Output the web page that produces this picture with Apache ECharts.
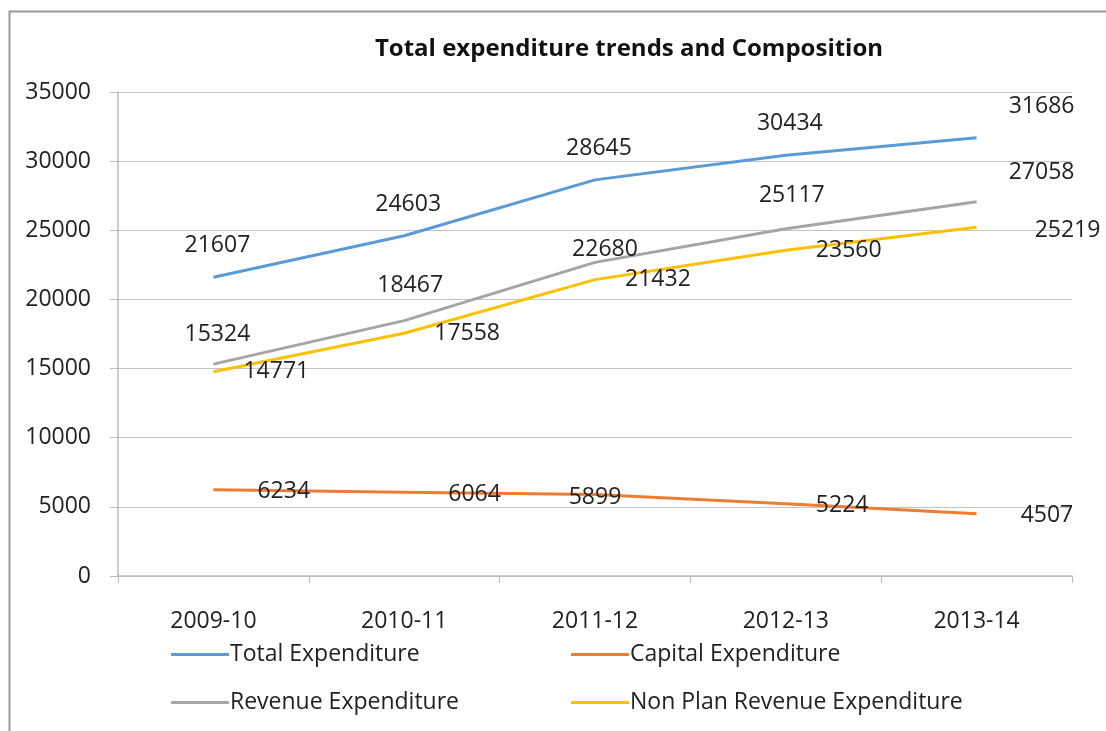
<!DOCTYPE html>
<html><head><meta charset="utf-8">
<script src="https://cdn.jsdelivr.net/npm/echarts@6/dist/echarts.min.js"></script>
<style>html,body{margin:0;padding:0;background:#fff}#c{width:1106px;height:731px}</style>
</head><body><div id="c"></div>
<script>
const categories = ['2009-10','2010-11','2011-12','2012-13','2013-14'];
const totalExp = [21607, 24603, 28645, 30434, 31686];
const capitalExp = [6234, 6064, 5899, 5224, 4507];
const revenueExp = [15324, 18467, 22680, 25117, 27058];
const nonPlanRevExp = [14771, 17558, 21432, 23560, 25219];
const seriesNames = ['Total Expenditure','Capital Expenditure','Revenue Expenditure','Non Plan Revenue Expenditure'];

const FONT = 'Open Sans';
const FS = 23;
const chart = echarts.init(document.getElementById('c'));

function withLabels(values, overrides) {
  return values.map((v, i) => overrides[i] ? { value: v, label: overrides[i] } : v);
}
const lbl = { fontFamily: FONT, fontSize: FS, color: '#222' };
const lineBase = { type: 'line', showSymbol: true, symbol: 'circle', symbolSize: 0.1, lineStyle: { width: 3 } };

chart.setOption({
  backgroundColor: '#fff',
  animation: false,
  title: {
    text: 'Total expenditure trends and Composition',
    left: 624, textAlign: 'center', top: 32,
    textStyle: { fontFamily: FONT, fontSize: 24, fontWeight: 'bold', color: '#111' }
  },
  graphic: [{ type: 'rect', shape: { x: 9.5, y: 11.5, width: 1120, height: 740 }, style: { fill: 'none', stroke: '#999', lineWidth: 2 } }],
  grid: { left: 118, right: 34, top: 92, bottom: 155 },
  xAxis: {
    type: 'category', data: categories, boundaryGap: true,
    axisLine: { lineStyle: { color: '#bbb', width: 1.5 } },
    axisTick: { show: true, length: 7, lineStyle: { color: '#bbb' } },
    axisLabel: { fontFamily: FONT, fontSize: FS, color: '#222', margin: 34 }
  },
  yAxis: {
    type: 'value', min: 0, max: 35000, interval: 5000,
    axisLine: { show: true, lineStyle: { color: '#bbb', width: 1.5 } },
    axisTick: { show: true, length: 8, lineStyle: { color: '#bbb' } },
    splitLine: { lineStyle: { color: '#c4c4c4', width: 1.2 } },
    axisLabel: { fontFamily: FONT, fontSize: FS, color: '#222', margin: 27, formatter: v => String(v) }
  },
  legend: [
    { data: [seriesNames[0], seriesNames[2]], orient: 'vertical', left: 166, top: 638, itemGap: 25, itemWidth: 58, itemHeight: 3, icon: 'rect',
      textStyle: { fontFamily: FONT, fontSize: FS, color: '#222', padding: [0,0,0,-4] } },
    { data: [seriesNames[1], seriesNames[3]], orient: 'vertical', left: 566, top: 638, itemGap: 25, itemWidth: 58, itemHeight: 3, icon: 'rect',
      textStyle: { fontFamily: FONT, fontSize: FS, color: '#222', padding: [0,0,0,-4] } }
  ],
  series: [
    Object.assign({}, lineBase, { name: seriesNames[0], color: '#5b9bd5',
      label: Object.assign({ show: true, position: 'top', distance: 20, offset: [4, 0] }, lbl),
      data: withLabels(totalExp, { 4: { offset: [65, 0] } }) }),
    Object.assign({}, lineBase, { name: seriesNames[1], color: '#ed7d31',
      label: Object.assign({ show: true, position: 'right', distance: 44, offset: [0, 2] }, lbl),
      data: withLabels(capitalExp, { 2: { position: 'inside', offset: [0, 3] }, 3: { offset: [-14, 2] } }) }),
    Object.assign({}, lineBase, { name: seriesNames[2], color: '#a5a5a5',
      label: Object.assign({ show: true, position: 'top', distance: 18, offset: [4, 0] }, lbl),
      data: withLabels(revenueExp, { 1: { offset: [6, -6] }, 2: { offset: [10, 17] }, 3: { offset: [6, -4] }, 4: { offset: [65, 0] } }) }),
    Object.assign({}, lineBase, { name: seriesNames[3], color: '#ffc000',
      label: Object.assign({ show: true, position: 'right', distance: 30 }, lbl),
      data: withLabels(nonPlanRevExp, { 4: { offset: [28, 3] } }) })
  ]
});
</script></body></html>
